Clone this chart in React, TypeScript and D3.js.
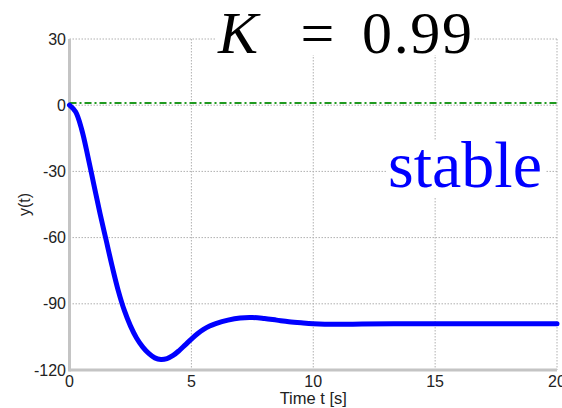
import React from "react";
import * as d3 from "d3";

const timeValues = [0, 0.25, 0.5, 0.75, 1.0, 1.25, 1.5, 1.75, 2.0, 2.25, 2.5, 2.75, 3.0, 3.25, 3.5, 3.75, 4.0, 4.25, 4.5, 4.75, 5.0, 5.25, 5.5, 5.75, 6.0, 6.5, 7.0, 7.5, 8.0, 8.5, 9.0, 9.5, 10, 11, 12, 14, 16, 18, 20];
const responseValues = [0, -3, -11, -23, -36, -49, -61, -73, -84, -93, -100, -105.5, -109.5, -112.5, -114.5, -115.2, -114.8, -113.4, -111.2, -108.6, -106, -103.6, -101.6, -100.1, -99, -97.4, -96.4, -96.2, -96.7, -97.4, -98.1, -98.6, -99, -99.3, -99.2, -99, -99, -99, -99];
const referenceLevel = 1;
const xTicks = [0, 5, 10, 15, 20];
const yTicks = [30, 0, -30, -60, -90, -120];

export default function App() {
  const W = 562, H = 408;
  const x = d3.scaleLinear().domain([0, 20]).range([69.5, 557]);
  const y = d3.scaleLinear().domain([-120, 30]).range([370, 39]);
  const pts: [number, number][] = timeValues.map((t, i) => [t, responseValues[i]]);
  const line = d3
    .line<[number, number]>()
    .x((d) => x(d[0]))
    .y((d) => y(d[1]))
    .curve(d3.curveCatmullRom.alpha(0.5));
  const gridColor = "#b0b0b0";
  const sans = "'Liberation Sans', Arial, sans-serif";
  const serif = "'Liberation Serif', 'Times New Roman', serif";
  return (
    <svg width={W} height={H} style={{ position: "absolute", left: 0, top: 0 }}>
      <rect x={0} y={0} width={W} height={H} fill="#fff" />
      {xTicks.slice(1).map((t) => (
        <line key={"gx" + t} x1={x(t)} x2={x(t)} y1={y(30)} y2={y(-120)} stroke={gridColor} strokeWidth={1} strokeDasharray="1.5,1.5" />
      ))}
      {yTicks.slice(0, -1).map((v) => (
        <line key={"gy" + v} x1={x(0)} x2={x(20)} y1={y(v)} y2={y(v)} stroke={gridColor} strokeWidth={1} strokeDasharray="1.5,1.5" />
      ))}
      <line x1={x(0)} x2={x(0)} y1={y(30)} y2={y(-120) + 1.5} stroke="#c4c4c4" strokeWidth={3} />
      <line x1={x(0)} x2={x(20)} y1={y(-120)} y2={y(-120)} stroke="#c4c4c4" strokeWidth={3} />
      <line x1={x(0)} x2={x(20)} y1={y(referenceLevel)} y2={y(referenceLevel)} stroke="#1f9a1f" strokeWidth={2} strokeDasharray="7,3,2,3" />
      <path d={line(pts) || ""} fill="none" stroke="#0000ff" strokeWidth={5} strokeLinejoin="round" strokeLinecap="round" />
      {yTicks.map((v) => (
        <text key={"yl" + v} x={66} y={y(v)} dy="0.35em" textAnchor="end" fontFamily={sans} fontSize={16} fill="#222">
          {v}
        </text>
      ))}
      {xTicks.map((t) => (
        <text key={"xl" + t} x={x(t)} y={387} textAnchor="middle" fontFamily={sans} fontSize={16} fill="#222">
          {t}
        </text>
      ))}
      <text x={(x(0) + x(20)) / 2} y={404} textAnchor="middle" fontFamily={sans} fontSize={16.5} fill="#222">
        Time t [s]
      </text>
      <text transform={`translate(30,${(y(30) + y(-120)) / 2}) rotate(-90)`} textAnchor="middle" fontFamily={sans} fontSize={16} fill="#222">
        y(t)
      </text>
      <rect x={215} y={8} width={258} height={47} fill="#fff" />
      <text x={218} y={53} fontFamily={serif} fontSize={60} fill="#000">
        <tspan fontStyle="italic">K</tspan>
      </text>
      <text x={317.5} y={53} textAnchor="middle" fontFamily={serif} fontSize={60} fill="#000">=</text>
      <text x={362} y={53} fontFamily={serif} fontSize={60} fill="#000" textLength={110}>0.99</text>
      <rect x={386} y={140} width={160} height={58} fill="#fff" />
      <text x={388} y={187} fontFamily={serif} fontSize={66} fill="#0000ff">
        stable
      </text>
    </svg>
  );
}
